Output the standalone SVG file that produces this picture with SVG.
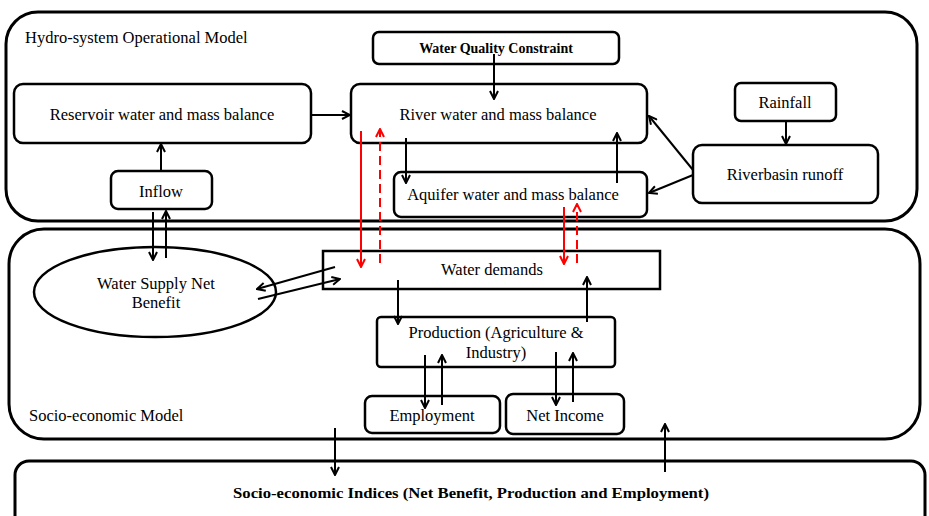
<svg xmlns="http://www.w3.org/2000/svg" width="929" height="516" viewBox="0 0 929 516">
<defs>
<marker id="ah" viewBox="0 0 10 10" refX="9" refY="5" markerWidth="10" markerHeight="10" markerUnits="userSpaceOnUse" orient="auto">
<path d="M1,1 L9,5 L1,9" fill="none" stroke="#000" stroke-width="2"/>
</marker>
<marker id="ahr" viewBox="0 0 10 10" refX="9" refY="5" markerWidth="10" markerHeight="10" markerUnits="userSpaceOnUse" orient="auto">
<path d="M1,1 L9,5 L1,9" fill="none" stroke="#f00" stroke-width="2"/>
</marker>
</defs>
<style>
.outer{fill:none;stroke:#000;stroke-width:3}
.box{fill:#fff;stroke:#000;stroke-width:2.5}
text{font-family:'Liberation Serif','Times New Roman','DejaVu Serif',serif;font-size:16.5px;fill:#000}
.c{text-anchor:middle}
.b{font-weight:bold;font-size:14px}
.a{stroke:#000;stroke-width:2;fill:none;marker-end:url(#ah)}
.r{stroke:#f00;stroke-width:2;fill:none;marker-end:url(#ahr)}
.d{stroke-dasharray:9 5}
</style>
<rect width="929" height="516" fill="#fff"/>
<g id="hydro-system">
<rect class="outer" x="6" y="12" width="911" height="209" rx="32"/>
<text x="25" y="43">Hydro-system Operational Model</text>
</g>
<g id="socio-economic">
<rect class="outer" x="9" y="229" width="911" height="210" rx="35"/>
<text x="29" y="421">Socio-economic Model</text>
</g>
<g id="indices">
<rect class="outer" x="15" y="461" width="910" height="70" rx="14"/>
<text class="c b" x="471" y="498" style="font-size:15px" textLength="476" lengthAdjust="spacingAndGlyphs">Socio-economic Indices (Net Benefit, Production and Employment)</text>
</g>
<g id="reservoir">
<rect class="box" x="14" y="84" width="297" height="59" rx="9"/>
<text class="c" x="162" y="120">Reservoir water and mass balance</text>
</g>
<g id="inflow">
<rect class="box" x="111" y="171" width="101" height="38" rx="7"/>
<text class="c" x="161" y="197">Inflow</text>
</g>
<g id="wqc">
<rect class="box" x="373" y="32" width="246" height="32" rx="6"/>
<text class="c b" x="496" y="53">Water Quality Constraint</text>
</g>
<g id="river">
<rect class="box" x="351" y="84" width="296" height="59" rx="9"/>
<text class="c" x="498" y="120">River water and mass balance</text>
</g>
<g id="aquifer">
<rect class="box" x="394" y="172" width="253" height="45" rx="7"/>
<text class="c" x="513" y="200">Aquifer water and mass balance</text>
</g>
<g id="rainfall">
<rect class="box" x="735" y="83" width="101" height="38" rx="6"/>
<text class="c" x="785" y="108">Rainfall</text>
</g>
<g id="runoff">
<rect class="box" x="693" y="145" width="185" height="58" rx="9"/>
<text class="c" x="785" y="180">Riverbasin runoff</text>
</g>
<g id="wsnb">
<ellipse class="box" cx="155" cy="292" rx="121" ry="45"/>
<text class="c" x="156" y="289">Water Supply Net</text>
<text class="c" x="156" y="308">Benefit</text>
</g>
<g id="demands">
<rect class="box" x="323" y="251" width="337" height="38"/>
<text class="c" x="492" y="275">Water demands</text>
</g>
<g id="production">
<rect class="box" x="377" y="317" width="238" height="50" rx="4"/>
<text class="c" x="496" y="338">Production (Agriculture &amp;</text>
<text class="c" x="496" y="358">Industry)</text>
</g>
<g id="employment">
<rect class="box" x="365" y="396" width="135" height="37" rx="7"/>
<text class="c" x="432" y="421">Employment</text>
</g>
<g id="netincome">
<rect class="box" x="506" y="394" width="118" height="40" rx="7"/>
<text class="c" x="565" y="421">Net Income</text>
</g>
<g id="connectors">
<line class="a" x1="161" y1="171" x2="161" y2="144"/>
<line class="a" x1="311" y1="115" x2="350" y2="115"/>
<line class="a" x1="494" y1="54" x2="494" y2="99"/>
<line class="a" x1="406" y1="138" x2="406" y2="183"/>
<line class="a" x1="617" y1="183" x2="617" y2="133"/>
<line class="a" x1="786" y1="121" x2="786" y2="144"/>
<line class="a" x1="693" y1="170" x2="649" y2="116"/>
<line class="a" x1="693" y1="175" x2="649" y2="193"/>
<line class="a" x1="153" y1="212" x2="153" y2="260"/>
<line class="a" x1="166" y1="258" x2="166" y2="211"/>
<line class="a" x1="335" y1="267" x2="257" y2="289"/>
<line class="a" x1="258" y1="299" x2="340" y2="279"/>
<line class="a" x1="398" y1="280" x2="398" y2="324"/>
<line class="a" x1="587" y1="322" x2="587" y2="277"/>
<line class="a" x1="425" y1="355" x2="425" y2="408"/>
<line class="a" x1="442" y1="405" x2="442" y2="355"/>
<line class="a" x1="556" y1="352" x2="556" y2="405"/>
<line class="a" x1="573" y1="402" x2="573" y2="353"/>
<line class="a" x1="335" y1="428" x2="335" y2="475"/>
<line class="a" x1="665" y1="472" x2="665" y2="424"/>
<line class="r" x1="361" y1="131" x2="361" y2="267"/>
<line class="r d" x1="380" y1="263" x2="380" y2="129"/>
<line class="r" x1="564" y1="207" x2="564" y2="264"/>
<line class="r d" x1="577" y1="263" x2="577" y2="204"/>
</g>
</svg>
